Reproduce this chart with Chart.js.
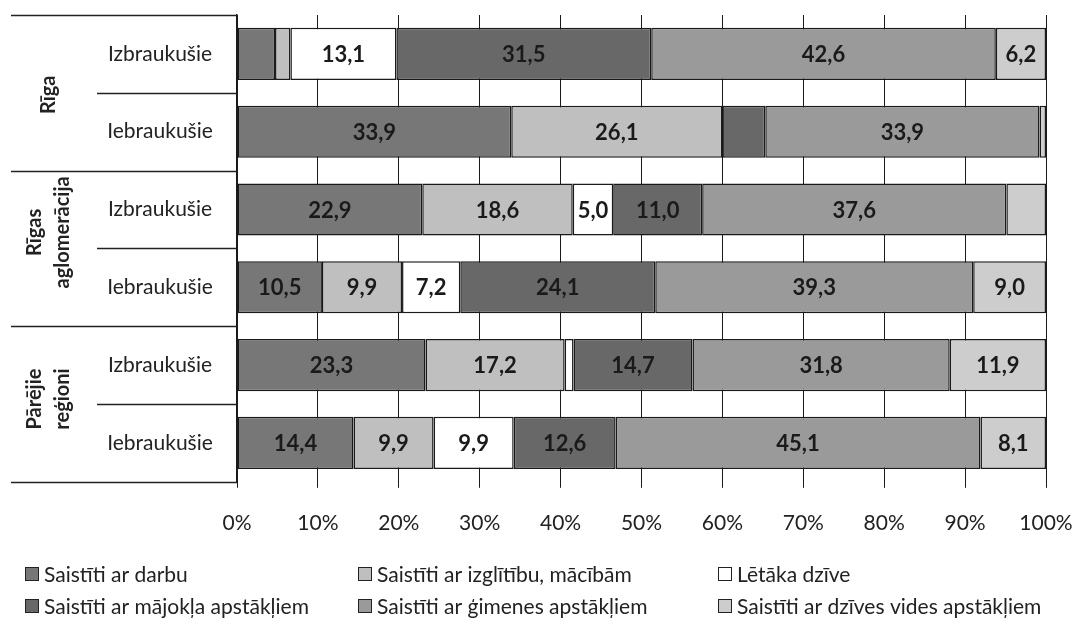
<!DOCTYPE html>
<html>
<head>
<meta charset="utf-8">
<script src="https://cdn.jsdelivr.net/npm/chart.js@4.4.0/dist/chart.umd.min.js"></script>
<style>
  html, body { margin: 0; padding: 0; background: #fff; }
  #wrap { width: 1073px; height: 619px; }
</style>
</head>
<body>
<div id="wrap"><canvas id="chart"></canvas></div>
<script>
// categories (two-level: group / direction)
const groupNames = [["Rīga"], ["Rīgas", "aglomerācija"], ["Pārējie", "reģioni"]];
const categories = ["Izbraukušie", "Iebraukušie", "Izbraukušie", "Iebraukušie", "Izbraukušie", "Iebraukušie"];

const seriesNames = [
  "Saistīti ar darbu",
  "Saistīti ar izglītību, mācībām",
  "Lētāka dzīve",
  "Saistīti ar mājokļa apstākļiem",
  "Saistīti ar ģimenes apstākļiem",
  "Saistīti ar dzīves vides apstākļiem"
];

// % values per category
const darbu     = [4.7, 33.9, 22.9, 10.5, 23.3, 14.4];
const izglitiba = [1.9, 26.1, 18.6, 9.9, 17.2, 9.9];
const letaka    = [13.1, 0, 5.0, 7.2, 1.1, 9.9];
const majoklis  = [31.5, 5.3, 11.0, 24.1, 14.7, 12.6];
const gimene    = [42.6, 33.9, 37.6, 39.3, 31.8, 45.1];
const dzivesVide = [6.2, 0.8, 4.9, 9.0, 11.9, 8.1];

// labels the original leaves out: [series, category]
const hiddenLabels = [[3, 1]];

const xTickValues = [0, 10, 20, 30, 40, 50, 60, 70, 80, 90, 100];

const colors = ["#777777", "#bfbfbf", "#ffffff", "#686868", "#9a9a9a", "#cdcdcd"];
const FONT = "Lato";
const TEXT = "#222222";

const allSeries = [darbu, izglitiba, letaka, majoklis, gimene, dzivesVide];

const datasets = allSeries.map((vals, i) => ({
  label: seriesNames[i],
  data: vals,
  backgroundColor: colors[i],
  borderColor: "#1a1a1a",
  borderWidth: 1.5,
  borderSkipped: false,
  barPercentage: 0.67,
  categoryPercentage: 1
}));

// value labels inside segments, category labels and legend
const drawExtras = {
  id: "drawExtras",
  afterDatasetsDraw(chart) {
    const ctx = chart.ctx;
    ctx.save();
    ctx.font = "bold 22px " + FONT;
    ctx.fillStyle = "#1a1a1a";
    ctx.textAlign = "center";
    ctx.textBaseline = "middle";
    chart.data.datasets.forEach((ds, di) => {
      const meta = chart.getDatasetMeta(di);
      meta.data.forEach((bar, i) => {
        const v = ds.data[i];
        if (v < 5) return;
        if (hiddenLabels.some(h => h[0] === di && h[1] === i)) return;
        const cx = (bar.x + bar.base) / 2;
        ctx.fillText(v.toFixed(1).replace(".", ","), cx, bar.y + 1);
      });
    });
    ctx.restore();
  },
  afterDraw(chart) {
    const ctx = chart.ctx;
    const area = chart.chartArea;
    const y = chart.scales.y;
    ctx.save();
    ctx.strokeStyle = "#222222";
    ctx.lineWidth = 1.5;

    // group separators
    const groupH = area.height / 3;
    for (let g = 0; g <= 3; g++) {
      const yy = Math.round(area.top + g * groupH) + 0.5;
      ctx.beginPath();
      ctx.moveTo(11, yy);
      ctx.lineTo(area.left, yy);
      ctx.stroke();
    }
    // sub separators
    for (let g = 0; g < 3; g++) {
      const yy = Math.round((y.getPixelForValue(2 * g) + y.getPixelForValue(2 * g + 1)) / 2) + 0.5;
      ctx.beginPath();
      ctx.moveTo(97, yy);
      ctx.lineTo(area.left, yy);
      ctx.stroke();
    }

    // sub labels
    ctx.fillStyle = TEXT;
    ctx.font = "21px " + FONT;
    ctx.textAlign = "center";
    ctx.textBaseline = "middle";
    categories.forEach((c, i) => {
      ctx.fillText(c, 160, y.getPixelForValue(i));
    });

    // group labels (rotated)
    const groupShift = [2, -16, -5];
    ctx.font = "bold 20px " + FONT;
    groupNames.forEach((lines, g) => {
      const cy = area.top + (g + 0.5) * groupH + groupShift[g];
      ctx.save();
      ctx.translate(49, cy);
      ctx.rotate(-Math.PI / 2);
      const lh = 28;
      lines.forEach((t, k) => {
        ctx.fillText(t, 0, (k - (lines.length - 1) / 2) * lh);
      });
      ctx.restore();
    });

    // legend in 3 columns x 2 rows
    const colX = [25, 358, 718];
    const rowY = [574, 606];
    ctx.font = "21px " + FONT;
    ctx.textAlign = "left";
    seriesNames.forEach((name, i) => {
      const bx = colX[i % 3];
      const by = rowY[Math.floor(i / 3)];
      ctx.fillStyle = colors[i];
      ctx.fillRect(bx, by - 7, 14, 14);
      ctx.lineWidth = 1;
      ctx.strokeStyle = "#222222";
      ctx.strokeRect(bx + 0.5, by - 6.5, 13, 13);
      ctx.fillStyle = TEXT;
      ctx.fillText(name, bx + 19, by + 1);
    });
    ctx.restore();
  }
};

new Chart(document.getElementById("chart"), {
  type: "bar",
  data: { labels: categories, datasets: datasets },
  options: {
    indexAxis: "y",
    responsive: true,
    maintainAspectRatio: false,
    animation: false,
    layout: { padding: { top: 15, right: 27, bottom: 60, left: 0 } },
    plugins: {
      legend: { display: false },
      tooltip: { enabled: false }
    },
    scales: {
      x: {
        stacked: true,
        min: 0,
        max: 100,
        afterBuildTicks(scale) {
          scale.ticks = xTickValues.map(v => ({ value: v }));
        },
        afterFit(scale) {
          // let the "100%" label hang into the right margin
          scale.paddingRight = 0;
          scale.paddingLeft = 0;
        },
        ticks: {
          callback: v => v + "%",
          font: { family: FONT, size: 21 },
          color: TEXT,
          padding: 23,
          maxRotation: 0
        },
        grid: { color: "#1a1a1a", lineWidth: 1, tickLength: 6, drawTicks: true },
        border: { display: false }
      },
      y: {
        stacked: true,
        ticks: { display: false },
        grid: { display: false },
        border: { display: true, color: "#1a1a1a", width: 1.5 },
        afterFit(scale) { scale.width = 237; }
      }
    }
  },
  plugins: [drawExtras]
});
</script>
</body>
</html>
